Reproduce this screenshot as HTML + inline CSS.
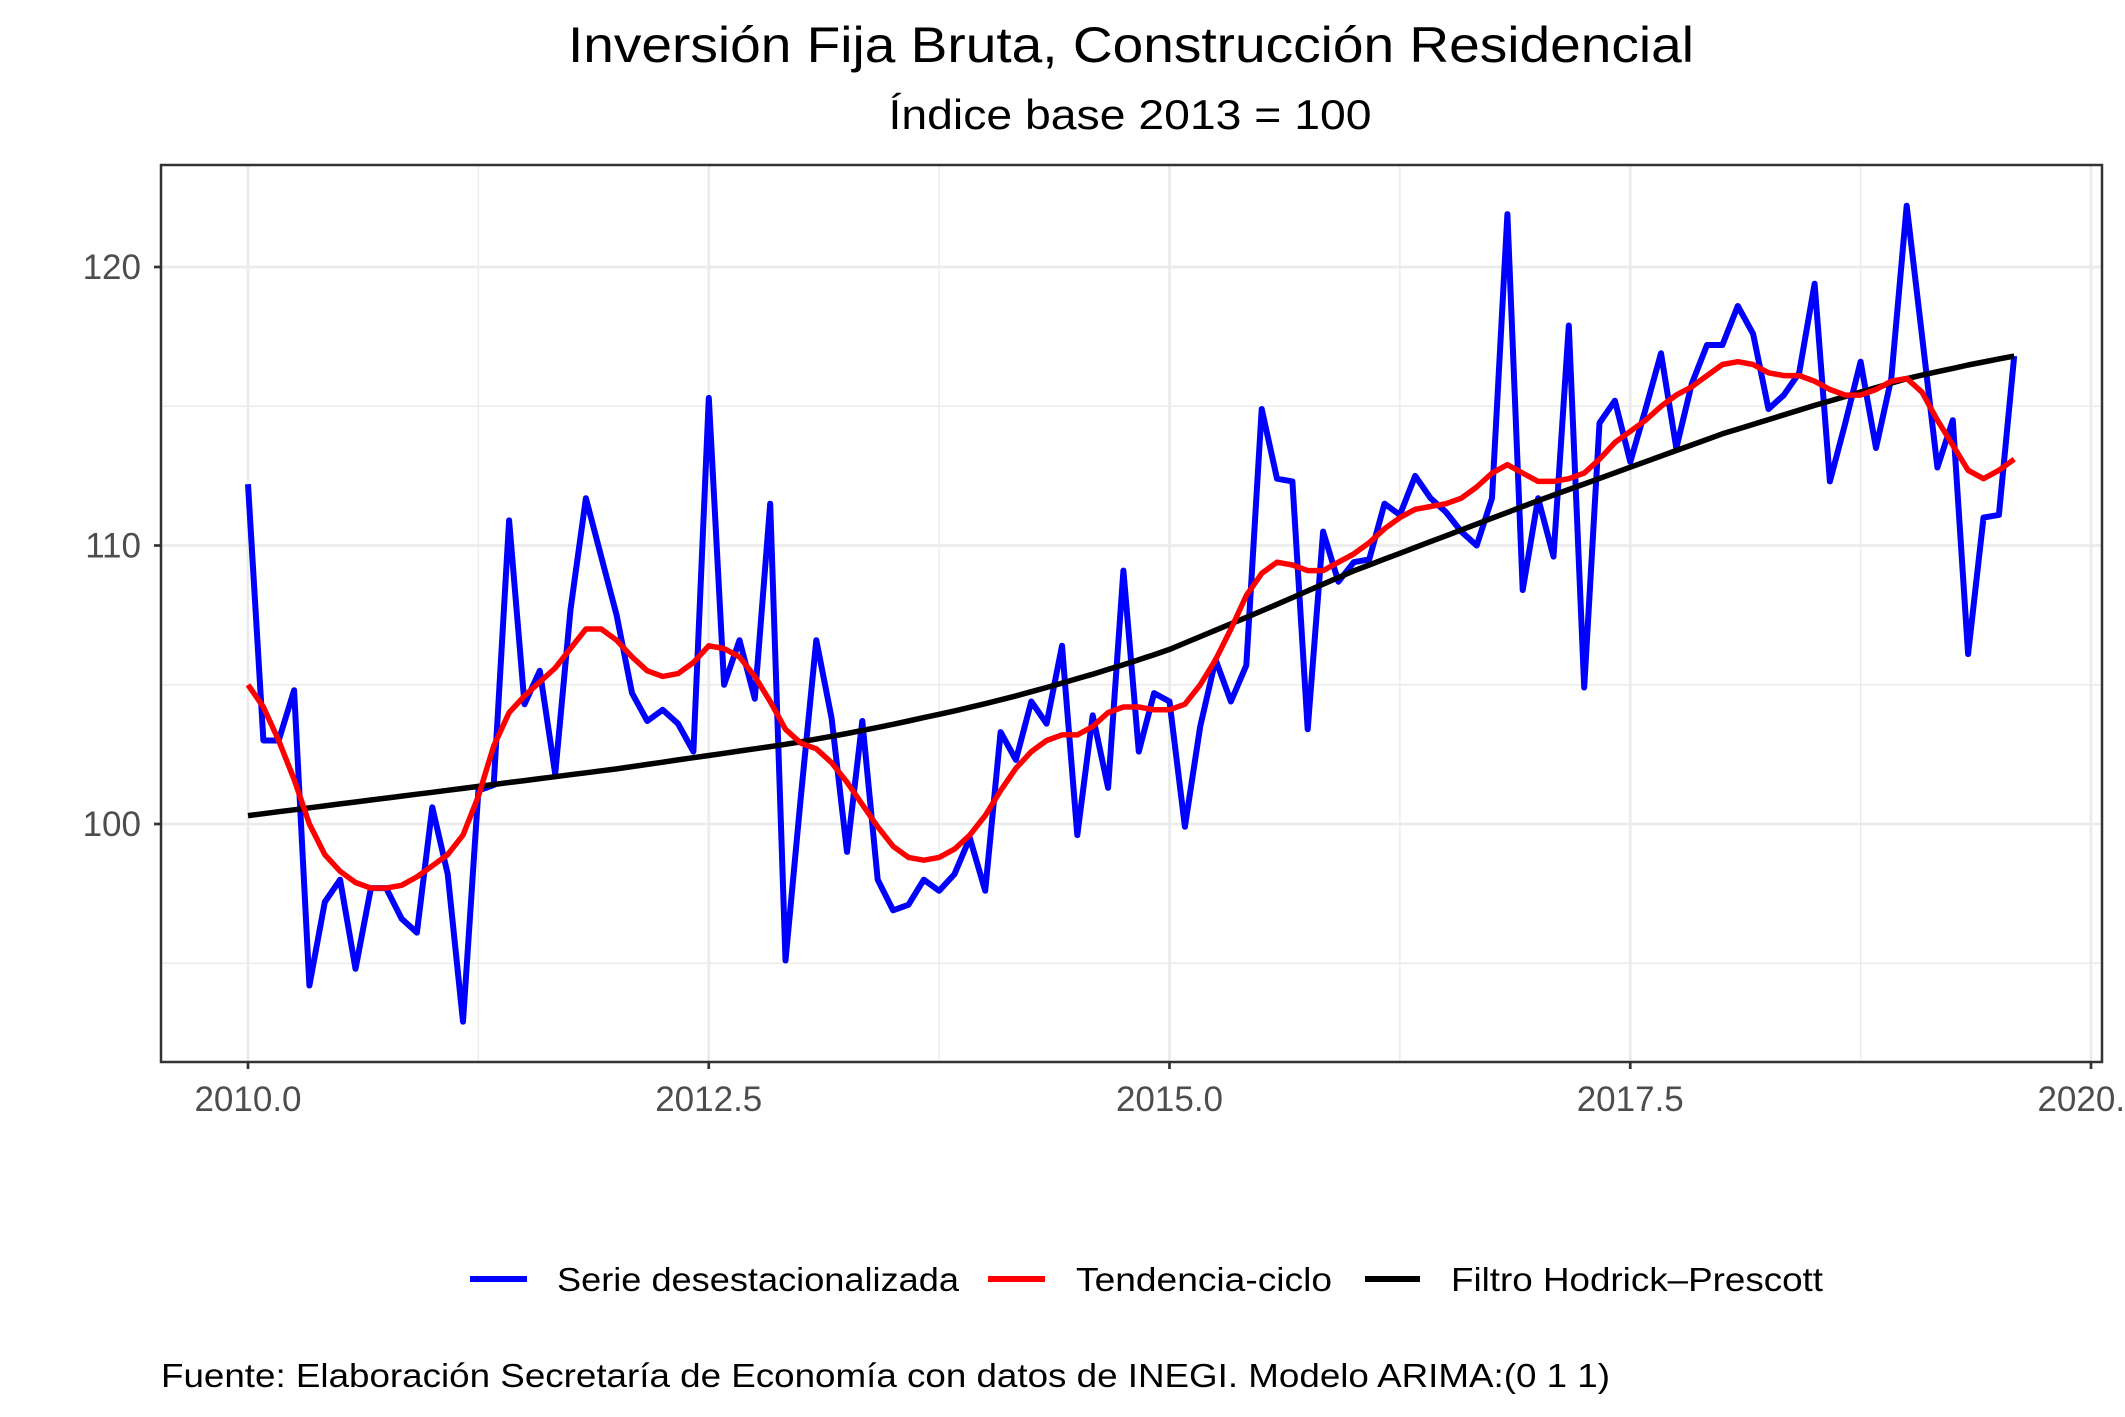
<!DOCTYPE html>
<html><head><meta charset="utf-8"><style>html,body{margin:0;padding:0;background:#fff}svg{display:block}</style></head>
<body>
<svg id="chart" width="2125" height="1417" viewBox="0 0 2125 1417" xmlns="http://www.w3.org/2000/svg" font-family="'Liberation Sans', Arial, sans-serif">
<rect width="2125" height="1417" fill="#fff"/>
<text x="1131" y="62" text-anchor="middle" font-size="50" fill="#000" textLength="1126" lengthAdjust="spacingAndGlyphs">Inversión Fija Bruta, Construcción Residencial</text>
<text x="1130" y="129" text-anchor="middle" font-size="42" fill="#000" textLength="483" lengthAdjust="spacingAndGlyphs">Índice base 2013 = 100</text>
<g id="grid"></g>
<g id="series"></g>
<rect x="161" y="165" width="1941" height="897" fill="none" stroke="#333" stroke-width="2.5"/>
<g id="axes"></g>
<g>
  <g>
    <line x1="470" y1="1279" x2="527" y2="1279" stroke="#0000ff" stroke-width="6"/>
    <text x="557" y="1291" font-size="33" fill="#000" textLength="402" lengthAdjust="spacingAndGlyphs">Serie desestacionalizada</text>
  </g>
  <g>
    <line x1="988" y1="1279" x2="1045" y2="1279" stroke="#ff0000" stroke-width="6"/>
    <text x="1076" y="1291" font-size="33" fill="#000" textLength="256" lengthAdjust="spacingAndGlyphs">Tendencia-ciclo</text>
  </g>
  <g>
    <line x1="1365" y1="1279" x2="1420" y2="1279" stroke="#000" stroke-width="6"/>
    <text x="1451" y="1291" font-size="33" fill="#000" textLength="372" lengthAdjust="spacingAndGlyphs">Filtro Hodrick–Prescott</text>
  </g>
</g>
<text x="161" y="1387" font-size="33" fill="#000" textLength="1449" lengthAdjust="spacingAndGlyphs">Fuente: Elaboración Secretaría de Economía con datos de INEGI. Modelo ARIMA:(0 1 1)</text>
</svg>
<script>
const startYear = 2010;
const serie = [112.2,103.0,103.0,104.8,94.2,97.2,98.0,94.8,97.7,97.7,96.6,96.1,100.6,98.2,92.9,101.2,101.4,110.9,104.3,105.5,101.8,107.7,111.7,109.6,107.5,104.7,103.7,104.1,103.6,102.6,115.3,105.0,106.6,104.5,111.5,95.1,101.0,106.6,103.8,99.0,103.7,98.0,96.9,97.1,98.0,97.6,98.2,99.5,97.6,103.3,102.3,104.4,103.6,106.4,99.6,103.9,101.3,109.1,102.6,104.7,104.4,99.9,103.5,105.9,104.4,105.7,114.9,112.4,112.3,103.4,110.5,108.7,109.4,109.5,111.5,111.1,112.5,111.7,111.2,110.5,110.0,111.7,121.9,108.4,111.7,109.6,117.9,104.9,114.4,115.2,113.0,114.9,116.9,113.5,115.8,117.2,117.2,118.6,117.6,114.9,115.4,116.2,119.4,112.3,114.4,116.6,113.5,116.0,122.2,117.5,112.8,114.5,106.1,111.0,111.1,116.8];
const tendencia = [105.0,104.2,103.0,101.6,100.0,98.9,98.3,97.9,97.7,97.7,97.8,98.1,98.5,98.9,99.6,101.0,102.8,104.0,104.6,105.1,105.6,106.3,107.0,107.0,106.6,106.0,105.5,105.3,105.4,105.8,106.4,106.3,106.0,105.3,104.4,103.4,102.9,102.7,102.2,101.5,100.7,99.9,99.2,98.8,98.7,98.8,99.1,99.6,100.3,101.2,102.0,102.6,103.0,103.2,103.2,103.5,104.0,104.2,104.2,104.1,104.1,104.3,105.0,105.9,107.0,108.2,109.0,109.4,109.3,109.1,109.1,109.4,109.7,110.1,110.6,111.0,111.3,111.4,111.5,111.7,112.1,112.6,112.9,112.6,112.3,112.3,112.4,112.6,113.1,113.7,114.1,114.5,115.0,115.4,115.7,116.1,116.5,116.6,116.5,116.2,116.1,116.1,115.9,115.6,115.4,115.4,115.6,115.9,116.0,115.5,114.5,113.6,112.7,112.4,112.7,113.1];
const hodrick = [100.30,100.37,100.44,100.51,100.58,100.65,100.72,100.79,100.86,100.93,101.00,101.07,101.14,101.21,101.28,101.35,101.42,101.49,101.56,101.63,101.70,101.77,101.84,101.91,101.98,102.06,102.14,102.22,102.30,102.38,102.46,102.54,102.62,102.70,102.78,102.86,102.95,103.05,103.15,103.25,103.36,103.47,103.58,103.70,103.82,103.94,104.06,104.19,104.32,104.46,104.60,104.75,104.90,105.06,105.22,105.38,105.55,105.72,105.90,106.08,106.27,106.50,106.73,106.96,107.19,107.42,107.65,107.89,108.13,108.37,108.61,108.85,109.09,109.30,109.51,109.72,109.93,110.14,110.35,110.56,110.77,110.98,111.19,111.40,111.61,111.81,112.01,112.21,112.41,112.61,112.81,113.01,113.21,113.41,113.61,113.81,114.01,114.18,114.35,114.52,114.69,114.86,115.03,115.19,115.35,115.51,115.67,115.83,115.99,116.12,116.24,116.36,116.48,116.59,116.70,116.80];
const xTicks = [2010, 2012.5, 2015, 2017.5, 2020];
const xTickLabels = ["2010.0","2012.5","2015.0","2017.5","2020.0"];
const xMinor = [2011.25, 2013.75, 2016.25, 2018.75];
const yTicks = [100, 110, 120];
const yTickLabels = ["100","110","120"];
const yMinor = [95, 105, 115];

const NS = "http://www.w3.org/2000/svg";
const PL = 161, PR = 2102, PT = 165, PB = 1062;
function xs(t){ return 248 + (t - 2010) * 184.3; }
function ys(v){ return 824 - (v - 100) * 27.85; }
function mk(tag, attrs, parent){
  const e = document.createElementNS(NS, tag);
  for (const k in attrs) e.setAttribute(k, attrs[k]);
  parent.appendChild(e); return e;
}
const grid = document.getElementById('grid');
const axes = document.getElementById('axes');
const series = document.getElementById('series');

yMinor.forEach(v => {
  const l = mk('line', {x1:PL, x2:PR, y1:ys(v), y2:ys(v), stroke:'#ebebeb', 'stroke-width':1.4}, grid);
  
  
});
xMinor.forEach(t => {
  const l = mk('line', {x1:xs(t), x2:xs(t), y1:PT, y2:PB, stroke:'#ebebeb', 'stroke-width':1.4}, grid);
  
  
});
yTicks.forEach((v, i) => {
  const y = ys(v);
  const l = mk('line', {x1:PL, x2:PR, y1:y, y2:y, stroke:'#ebebeb', 'stroke-width':2.7}, grid);
  
  
  const tk = mk('line', {x1:PL-7, x2:PL, y1:y, y2:y, stroke:'#333', 'stroke-width':2.7}, axes);
  
  
  const tx = mk('text', {x:PL-20, y:y+12, 'text-anchor':'end', 'font-size':35, fill:'#4d4d4d'}, axes);
  tx.textContent = yTickLabels[i];
  
  
});
xTicks.forEach((t, i) => {
  const x = xs(t);
  const l = mk('line', {x1:x, x2:x, y1:PT, y2:PB, stroke:'#ebebeb', 'stroke-width':2.7}, grid);
  
  
  const tk = mk('line', {x1:x, x2:x, y1:PB, y2:PB+7, stroke:'#333', 'stroke-width':2.7}, axes);
  
  
  const tx = mk('text', {x:x, y:PB+49, 'text-anchor':'middle', 'font-size':35, fill:'#4d4d4d'}, axes);
  tx.textContent = xTickLabels[i];
  
  
});
function pathFor(arr){
  return arr.map((v, i) => (i ? 'L' : 'M') + xs(startYear + i/12).toFixed(1) + ' ' + ys(v).toFixed(1)).join(' ');
}
const p1 = mk('path', {d:pathFor(serie), fill:'none', stroke:'#0000ff', 'stroke-width':6, 'stroke-linejoin':'round'}, series);


const p3 = mk('path', {d:pathFor(hodrick), fill:'none', stroke:'#000', 'stroke-width':5.5, 'stroke-linejoin':'round'}, series);


const p2 = mk('path', {d:pathFor(tendencia), fill:'none', stroke:'#ff0000', 'stroke-width':5.5, 'stroke-linejoin':'round'}, series);


</script>
</body></html>
